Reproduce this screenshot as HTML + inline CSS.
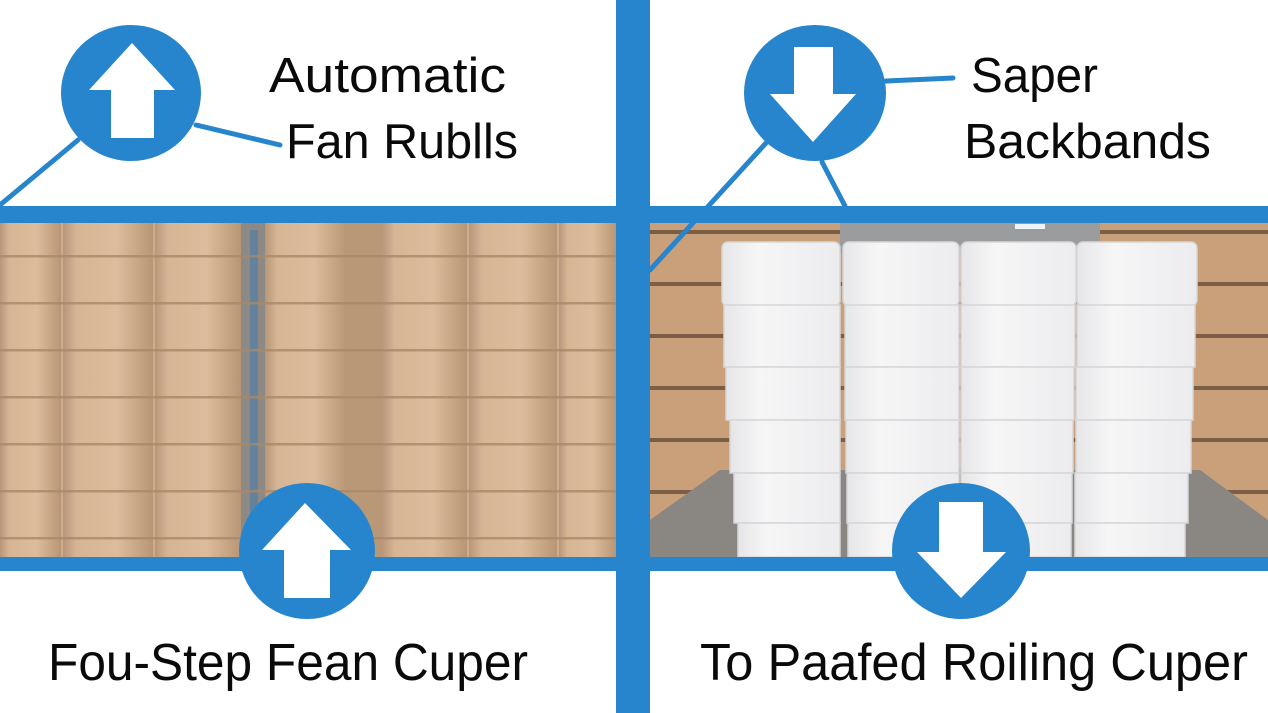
<!DOCTYPE html>
<html><head><meta charset="utf-8"><style>
html,body{margin:0;padding:0;background:#fff;}
svg{display:block;}
text{font-family:"Liberation Sans",sans-serif;fill:#0a0a0a;}
</style></head><body>
<svg width="1268" height="713" viewBox="0 0 1268 713" xmlns="http://www.w3.org/2000/svg">
<defs>
<linearGradient id="col" x1="0" x2="1" y1="0" y2="0">
<stop offset="0" stop-color="#b8967a"/><stop offset="0.15" stop-color="#d6b595"/><stop offset="0.6" stop-color="#dcbc9c"/><stop offset="1" stop-color="#b89675"/>
</linearGradient>
<pattern id="bands" x="0" y="255" width="10" height="47" patternUnits="userSpaceOnUse">
<rect width="10" height="47" fill="none"/><rect y="0" width="10" height="2.5" fill="#a88866" opacity="0.8"/>
</pattern>
<pattern id="wall" x="0" y="230" width="10" height="52" patternUnits="userSpaceOnUse">
<rect width="10" height="52" fill="#c9a07a"/><rect y="0" width="10" height="4" fill="#7a5e45"/>
</pattern>
<linearGradient id="wc" x1="0" x2="1"><stop offset="0" stop-color="#e6e6e8"/><stop offset="0.3" stop-color="#f6f6f7"/><stop offset="1" stop-color="#ececee"/></linearGradient>
</defs>
<rect width="1268" height="713" fill="#fff"/>

<!-- left photo -->
<rect x="0" y="223" width="616" height="334" fill="#cdac8a"/>
<g>
<rect x="0" y="223" width="61" height="334" fill="url(#col)"/>
<rect x="63" y="223" width="90" height="334" fill="url(#col)"/>
<rect x="155" y="223" width="86" height="334" fill="url(#col)"/>
<rect x="241" y="223" width="24" height="334" fill="#8d8a86"/>
<rect x="250" y="230" width="8" height="300" fill="#3f78b0" opacity="0.5"/>
<rect x="265" y="223" width="82" height="334" fill="url(#col)"/>
<rect x="347" y="223" width="35" height="334" fill="#b99878"/>
<rect x="382" y="223" width="85" height="334" fill="url(#col)"/>
<rect x="469" y="223" width="88" height="334" fill="url(#col)"/>
<rect x="559" y="223" width="57" height="334" fill="url(#col)"/>
<rect x="0" y="223" width="616" height="334" fill="url(#bands)"/>
</g>

<!-- right photo -->
<rect x="650" y="223" width="618" height="334" fill="url(#wall)"/>
<rect x="840" y="223" width="260" height="30" fill="#9a9c9e"/>
<rect x="1015" y="224" width="30" height="5" fill="#eef3f7"/>
<polygon points="650,520 720,470 1200,470 1268,520 1268,557 650,557" fill="#8a8682"/>
<g fill="url(#wc)" stroke="#d6d6d8" stroke-width="1.5">
<rect x="722" y="242" width="118" height="64" rx="6"/>
<rect x="843" y="242" width="116" height="64" rx="6"/>
<rect x="961" y="242" width="115" height="64" rx="6"/>
<rect x="1077" y="242" width="120" height="64" rx="6"/>
<rect x="724" y="305" width="116" height="62"/><rect x="845" y="305" width="114" height="62"/><rect x="961" y="305" width="114" height="62"/><rect x="1077" y="305" width="118" height="62"/>
<rect x="726" y="367" width="114" height="53"/><rect x="845" y="367" width="114" height="53"/><rect x="961" y="367" width="113" height="53"/><rect x="1076" y="367" width="117" height="53"/>
<rect x="730" y="420" width="110" height="53"/><rect x="846" y="420" width="113" height="53"/><rect x="961" y="420" width="112" height="53"/><rect x="1076" y="420" width="115" height="53"/>
<rect x="734" y="473" width="106" height="50"/><rect x="847" y="473" width="112" height="50"/><rect x="961" y="473" width="111" height="50"/><rect x="1075" y="473" width="113" height="50"/>
<rect x="738" y="523" width="102" height="34"/><rect x="848" y="523" width="111" height="34"/><rect x="961" y="523" width="110" height="34"/><rect x="1075" y="523" width="110" height="34"/>
</g>

<!-- bars -->
<g fill="#2685cc">
<rect x="0" y="206" width="1268" height="17"/>
<rect x="0" y="557" width="1268" height="14"/>
<rect x="616" y="0" width="34" height="713"/>
</g>

<!-- connector lines -->
<g stroke="#2685cc" stroke-width="5" stroke-linecap="round">
<line x1="78" y1="140" x2="0" y2="205"/>
<line x1="196" y1="125" x2="280" y2="145"/>
<line x1="886" y1="81" x2="953" y2="78"/>
<line x1="766" y1="143" x2="650" y2="270"/>
<line x1="822" y1="162" x2="845" y2="206"/>
</g>

<!-- circles -->
<g fill="#2685cc">
<ellipse cx="131" cy="93" rx="70" ry="68"/>
<ellipse cx="815" cy="93" rx="71" ry="68"/>
<ellipse cx="307" cy="551" rx="68" ry="68"/>
<ellipse cx="961" cy="551" rx="69" ry="68"/>
</g>
<g fill="#fff">
<polygon points="132,43 175,90 154,90 154,138 111,138 111,90 89,90"/>
<polygon points="794,47 833,47 833,94 856,94 813,142 770,94 794,94"/>
<polygon points="305,503 351,550 330,550 330,598 284,598 284,550 262,550"/>
<polygon points="939,502 983,502 983,552 1006,552 961,598 917,552 939,552"/>
</g>

<!-- texts -->
<text x="269" y="92" font-size="49" textLength="237" lengthAdjust="spacingAndGlyphs">Automatic</text>
<text x="286" y="158" font-size="49" textLength="232" lengthAdjust="spacingAndGlyphs">Fan Rublls</text>
<text x="971" y="92" font-size="49" textLength="127" lengthAdjust="spacingAndGlyphs">Saper</text>
<text x="964" y="158" font-size="49" textLength="247" lengthAdjust="spacingAndGlyphs">Backbands</text>
<text x="48" y="680" font-size="52" textLength="480" lengthAdjust="spacingAndGlyphs">Fou-Step Fean Cuper</text>
<text x="700" y="680" font-size="52" textLength="548" lengthAdjust="spacingAndGlyphs">To Paafed Roiling Cuper</text>
</svg>
</body></html>
